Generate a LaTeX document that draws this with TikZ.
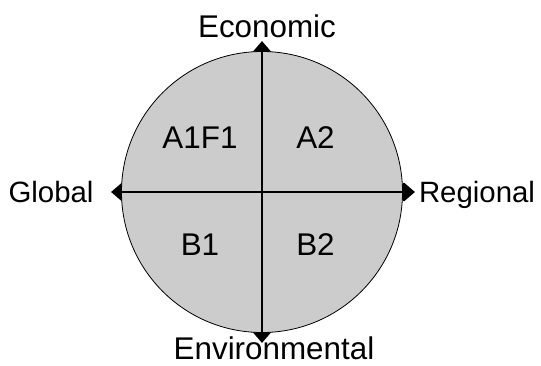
\documentclass[tikz,border=0pt]{standalone}
\usepackage{fontspec}
\setmainfont{Liberation Sans}
\usetikzlibrary{shapes.geometric}
\definecolor{quad}{HTML}{CCCCCC}

\begin{document}
\begin{tikzpicture}[
  x=1bp, y=-1bp,
  font=\fontsize{31.5}{37}\selectfont,
  disc/.style={draw, circle, fill=quad, line width=0.8bp,
               minimum size=281bp, inner sep=0pt},
  tipv/.style={diamond, fill=black, inner sep=0pt,
               minimum width=19bp, minimum height=22bp},
  tiph/.style={diamond, fill=black, inner sep=0pt,
               minimum width=22bp, minimum height=19bp},
  axis/.style={line width=1.3bp},
  lbl/.style={anchor=base, inner sep=0pt},
  hlbl/.style={lbl, font=\fontsize{29.5}{35}\selectfont},
]
\useasboundingbox (0,0) rectangle (541,365);
% arrow ends, half hidden by the disc
\node[tipv] (econ) at (262,52) {};
\node[tipv] (env)  at (262,332) {};
\node[tiph] (glob) at (122,192) {};
\node[tiph] (reg)  at (404,192) {};
\node[disc] (disc) at (262,192) {};
\draw[axis] (econ.center) -- (env.center);
\draw[axis] (glob.center) -- (reg.center);
% axis labels
\node[lbl] (leconomic) at (267,37.5) {Economic};
\node[lbl] (lenviron)  at (274,359) {Environmental};
\node[hlbl] (lglobal)   at (51,202.5) {Global};
\node[hlbl] (lregional) at (477,202.5) {Regional};
% scenario quadrants
\node[lbl] (aonefone) at (200,148.5) {A1F1};
\node[lbl] (atwo)     at (315.5,148.5) {A2};
\node[lbl] (bone)     at (200,255) {B1};
\node[lbl] (btwo)     at (315.5,255) {B2};
\end{tikzpicture}
\end{document}
